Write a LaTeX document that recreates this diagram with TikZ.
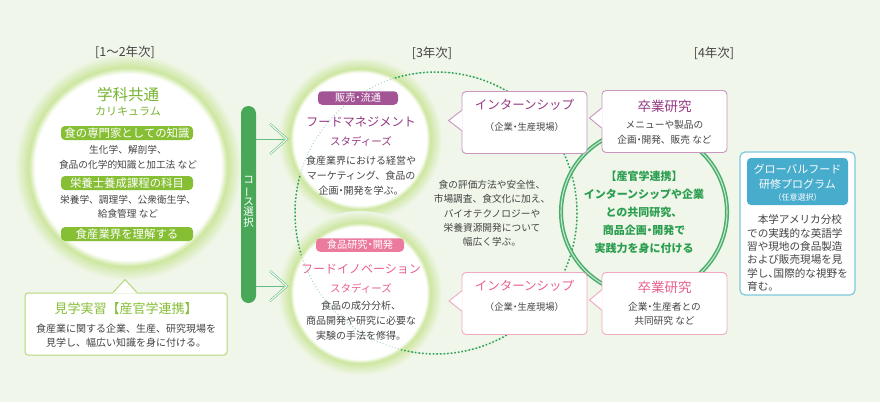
\documentclass[tikz,border=0pt]{standalone}
\usepackage{fontspec}
\setmainfont{Noto Sans CJK JP}
\usetikzlibrary{calc}
\newcommand\nk{{\addfontfeature{RawFeature=+halt}・}}
\definecolor{bg}{RGB}{240,246,233}
\definecolor{glow}{RGB}{205,230,160}
\definecolor{lgreen}{RGB}{134,190,52}
\definecolor{tgreen}{RGB}{118,180,48}
\definecolor{barg}{RGB}{72,168,88}
\definecolor{ringg}{RGB}{72,174,106}
\definecolor{ringt}{RGB}{44,158,80}
\definecolor{purp}{RGB}{162,84,148}
\definecolor{purpt}{RGB}{150,58,132}
\definecolor{purpb}{RGB}{200,150,190}
\definecolor{pink}{RGB}{236,122,156}
\definecolor{pinkt}{RGB}{232,96,142}
\definecolor{pinkb}{RGB}{240,170,192}
\definecolor{bluef}{RGB}{72,172,204}
\definecolor{blueb}{RGB}{125,200,222}
\definecolor{txt}{RGB}{68,68,68}
\definecolor{dotg}{RGB}{40,160,80}
\definecolor{dotl}{RGB}{165,216,194}
\definecolor{boxg}{RGB}{182,216,122}
\definecolor{arrg}{RGB}{100,190,130}
\pgfdeclareradialshading{glowbig}{\pgfpoint{0bp}{0bp}}{color(0bp)=(white); color(20.6bp)=(white); color(22bp)=(glow); color(25bp)=(bg); color(50bp)=(bg)}
\pgfdeclareradialshading{glowmid}{\pgfpoint{0bp}{0bp}}{color(0bp)=(white); color(20.2bp)=(white); color(21.4bp)=(glow); color(25bp)=(bg); color(50bp)=(bg)}
\tikzset{
  yr/.style={text=txt, font=\fontsize{12.5}{14}\selectfont},
  body/.style={align=center, text=txt, inner sep=0pt, font=\fontsize{9.7}{15}\selectfont},
  glabel/.style={fill=lgreen, text=white, rounded corners=4pt, minimum width=132pt, minimum height=14pt, inner sep=0pt, font=\fontsize{11.4}{12}\selectfont},
  clabel/.style={text=white, rounded corners=4pt, minimum height=13.5pt, inner sep=0pt, font=\fontsize{10.2}{12}\selectfont},
  cbox/.style={fill=white, line width=0.9pt, rounded corners=4pt, minimum width=125pt, minimum height=62pt, inner sep=0pt},
  dots/.style={line width=1.5pt, dash pattern=on 1.5pt off 2.1pt},
}
\begin{document}
\begin{tikzpicture}[x=1pt,y=-1pt]
\useasboundingbox (0,0) rectangle (880,402);
\fill[bg] (0,0) rectangle (880,402);

% glowing circles
\node[circle, inner sep=0pt, minimum size=226pt, shading=glowbig] (lc) at (128,167) {};
\node[circle, inner sep=0pt, minimum size=164pt, shading=glowmid] (fm) at (360,139) {};
\node[circle, inner sep=0pt, minimum size=164pt, shading=glowmid] (fi) at (360,293) {};

% big dotted circle
\coordinate (dc) at (436,213);
\draw[dotl, line width=1pt, dash pattern=on 1pt off 2.2pt] (dc) circle[radius=141];
\begin{scope}[even odd rule]
  \clip (0,0) rectangle (880,402) (fm) circle[radius=70] (fi) circle[radius=70];
  \draw[dotg, dots] (dc) circle[radius=141];
\end{scope}

% ring
\node[circle, inner sep=0pt, minimum size=166pt, draw=ringg, line width=1.5pt, double=ringg!30!white, double distance=1.1pt, align=center, text=ringt, font=\fontsize{11}{18}\selectfont\bfseries] (ring) at (644,212) {【産官学連携】\\インターンシップや企業\\との共同研究、\\商品企画\nk 開発で\\実践力を身に付ける};

% course selection bar and arrows
\node[fill=barg, rounded corners=7.5pt, minimum width=15pt, minimum height=197pt, inner sep=0pt] (bar) at (248.5,204.5) {};
\node[text=white, align=center, inner sep=0pt, font=\fontsize{10.5}{10.8}\selectfont] (bart) at (248.5,202) {コ\\\rotatebox[origin=c]{90}{ー}\\ス\\選\\択};
\draw[arrg, line width=0.7pt] (bar.east |- fm) -- ($(fm.center)+(-76,0)$);
\draw[arrg, line width=0.6pt, double=white, double distance=1pt] ($(fm.center)+(-90,-15)$) -- ($(fm.center)+(-73,0)$) -- ($(fm.center)+(-90,15)$);
\draw[arrg, line width=0.7pt] ($(bar.east |- fi)+(0,-7)$) -- ($(fi.center)+(-76,-7)$);
\draw[arrg, line width=0.6pt, double=white, double distance=1pt] ($(fi.center)+(-90,-22)$) -- ($(fi.center)+(-73,-7)$) -- ($(fi.center)+(-90,8)$);

% year labels
\node[yr] (y12) at (125,52) {[1～2年次]};
\node[yr] (y3) at (432,53) {[3年次]};
\node[yr] (y4) at (714,53) {[4年次]};

% left circle contents
\node[text=tgreen, font=\fontsize{15.5}{17}\selectfont] (lct) at (128,95) {学科共通};
\node[text=tgreen, font=\fontsize{11}{12}\selectfont] (lcs) at (128,111) {カリキュラム};
\node[glabel] (l1) at (127,133) {食の専門家としての知識};
\node[body] (l1b) at (128,157.5) {生化学、解剖学、\\食品の化学的知識と加工法 など};
\node[glabel] (l2) at (127,183) {栄養士養成課程の科目};
\node[body, font=\fontsize{9.7}{14.5}\selectfont] (l2b) at (128,207) {栄養学、調理学、公衆衛生学、\\給食管理 など};
\node[glabel] (l3) at (127,234) {食産業界を理解する};

% left callout
\node[draw=boxg, fill=white, line width=1pt, rounded corners=3pt, minimum width=202pt, minimum height=62pt, inner sep=0pt] (kj) at (126,324) {};
\coordinate (kjt) at ($(kj.north)+(-1,-13)$);
\fill[white] ($(kj.north)+(-13,1)$) -- (kjt) -- ($(kj.north)+(11,1)$) -- cycle;
\draw[boxg, line width=1pt] ($(kj.north)+(-13,0)$) -- (kjt) -- ($(kj.north)+(11,0)$);
\node[text=lgreen, font=\fontsize{13}{14}\selectfont] (kjh) at (126,309) {見学実習【産官学連携】};
\node[body, font=\fontsize{10}{14}\selectfont] (kjb) at (126,336) {食産業に関する企業、生産、研究現場を\\見学し、幅広い知識を身に付ける。};

% food management circle
\node[clabel, fill=purp, minimum width=80pt] (fml) at (358,98) {販売\nk 流通};
\node[text=purpt, font=\fontsize{12.2}{14}\selectfont] (fmt) at (361,122) {フードマネジメント};
\node[text=purpt, font=\fontsize{10.5}{12}\selectfont] (fms) at (361,141) {スタディーズ};
\node[body, font=\fontsize{10}{15}\selectfont] (fmb) at (361,176) {食産業界における経営や\\マーケティング、食品の\\企画\nk 開発を学ぶ。};

% food innovation circle
\node[clabel, fill=pink, minimum width=88pt] (fil) at (360,245) {食品研究\nk 開発};
\node[text=pinkt, font=\fontsize{12}{14}\selectfont] (fit) at (361,269) {フードイノベーション};
\node[text=pinkt, font=\fontsize{10.5}{12}\selectfont] (fis) at (361,288) {スタディーズ};
\node[body, font=\fontsize{10}{15}\selectfont] (fib) at (361,321) {食品の成分分析、\\商品開発や研究に必要な\\実験の手法を修得。};

% middle text
\node[body, font=\fontsize{9.7}{14.3}\selectfont] (mid) at (492,213.5) {食の評価方法や安全性、\\市場調査、食文化に加え、\\バイオテクノロジーや\\栄養資源開発について\\幅広く学ぶ。};

% internship / graduation boxes
\node[cbox, draw=purpb] (ib1) at (524.5,122.5) {};
\coordinate (ib1t) at ($(ib1.west)+(-13,-2)$);
\fill[white] ($(ib1.west)+(1,-12)$) -- (ib1t) -- ($(ib1.west)+(1,8)$) -- cycle;
\draw[purpb, line width=0.9pt] ($(ib1.west)+(0,-12)$) -- (ib1t) -- ($(ib1.west)+(0,8)$);
\node[text=purpt, font=\fontsize{12.5}{14}\selectfont] (ib1h) at (524.5,105) {インターンシップ};
\node[body, font=\fontsize{9.3}{12}\selectfont] (ib1b) at (524.5,127) {（企業\nk 生産現場）};

\node[cbox, draw=purpb] (gr1) at (664.5,121.5) {};
\coordinate (gr1t) at ($(gr1.west)+(-12,-3.5)$);
\fill[white] ($(gr1.west)+(1,-13.5)$) -- (gr1t) -- ($(gr1.west)+(1,6.5)$) -- cycle;
\draw[purpb, line width=0.9pt] ($(gr1.west)+(0,-13.5)$) -- (gr1t) -- ($(gr1.west)+(0,6.5)$);
\node[text=purpt, font=\fontsize{13.5}{15}\selectfont] (gr1h) at (664.5,106) {卒業研究};
\node[body, font=\fontsize{9.7}{15}\selectfont] (gr1b) at (664.5,132.5) {メニューや製品の\\企画\nk 開発、販売 など};

\node[cbox, draw=pinkb] (ib2) at (524.5,303.5) {};
\coordinate (ib2t) at ($(ib2.west)+(-12.5,-2.5)$);
\fill[white] ($(ib2.west)+(1,-12.5)$) -- (ib2t) -- ($(ib2.west)+(1,7.5)$) -- cycle;
\draw[pinkb, line width=0.9pt] ($(ib2.west)+(0,-12.5)$) -- (ib2t) -- ($(ib2.west)+(0,7.5)$);
\node[text=pinkt, font=\fontsize{12.5}{14}\selectfont] (ib2h) at (524.5,286) {インターンシップ};
\node[body, font=\fontsize{9.3}{12}\selectfont] (ib2b) at (524.5,307) {（企業\nk 生産現場）};

\node[cbox, draw=pinkb] (gr2) at (664.5,303.5) {};
\coordinate (gr2t) at ($(gr2.west)+(-12,-3.5)$);
\fill[white] ($(gr2.west)+(1,-13.5)$) -- (gr2t) -- ($(gr2.west)+(1,6.5)$) -- cycle;
\draw[pinkb, line width=0.9pt] ($(gr2.west)+(0,-13.5)$) -- (gr2t) -- ($(gr2.west)+(0,6.5)$);
\node[text=pinkt, font=\fontsize{13.5}{15}\selectfont] (gr2h) at (664.5,287) {卒業研究};
\node[body, font=\fontsize{9.7}{14}\selectfont] (gr2b) at (664.5,313.5) {企業\nk 生産者との\\共同研究 など};

% global food box
\node[draw=blueb, fill=white, line width=1.2pt, rounded corners=5pt, minimum width=115pt, minimum height=143pt, inner sep=0pt] (gf) at (797.5,223.5) {};
\node[fill=bluef, rounded corners=4pt, minimum width=101pt, minimum height=47pt, inner sep=0pt] (gfh) at (797.5,181.5) {};
\node[text=white, align=center, inner sep=0pt, font=\fontsize{11}{15}\selectfont] (gfht) at (797.5,176.5) {グローバルフード\\研修プログラム};
\node[text=white, inner sep=0pt, font=\fontsize{8}{9}\selectfont] (gfhs) at (797.5,197.5) {（任意選択）};
\node[text=txt, align=left, inner sep=0pt, font=\fontsize{10.6}{13.3}\selectfont\addfontfeature{RawFeature=+halt}] (gfb) at (797.5,253) {　本学アメリカ分校\\での実践的な英語学\\習や現地の食品製造\\および販売現場を見\\学し、国際的な視野を\\育む。};
\end{tikzpicture}
\end{document}
